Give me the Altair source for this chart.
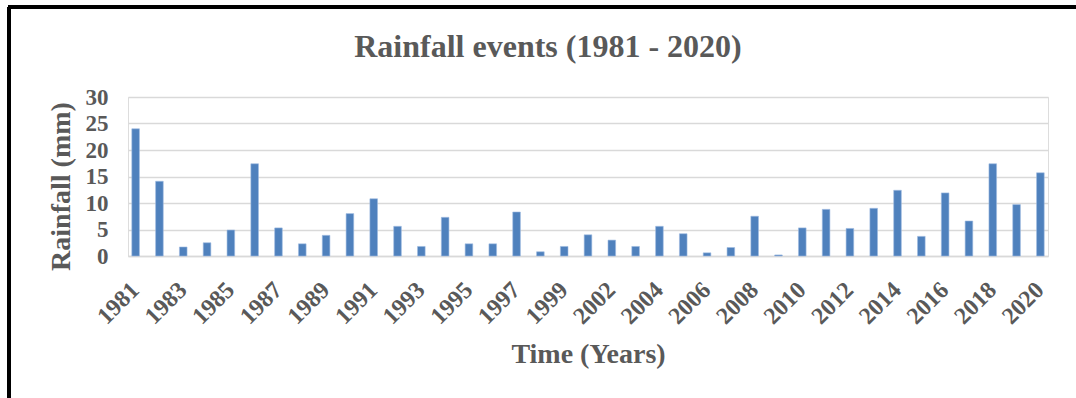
import altair as alt
import pandas as pd

years = [str(y) for y in range(1981, 2001)] + [str(y) for y in range(2002, 2021)]
rainfall = [24.0, 14.1, 1.7, 2.5, 4.9, 17.4, 5.3, 2.3, 3.9, 8.0,
            10.8, 5.6, 1.8, 7.3, 2.3, 2.3, 8.3, 0.8, 1.8, 4.0,
            3.0, 1.8, 5.6, 4.2, 0.6, 1.6, 7.5, 0.2, 5.3, 8.8,
            5.2, 9.0, 12.4, 3.7, 11.9, 6.6, 17.4, 9.7, 15.7]
tick_years = years[::2]

df = pd.DataFrame({"Year": years, "Rainfall": rainfall})

FONT = "Liberation Serif"
GREY = "#595959"

bars = alt.Chart(df).mark_bar(color="#4f81bd", stroke="#9dbbe0", strokeWidth=0.6).encode(
    x=alt.X("Year:N", sort=years,
            scale=alt.Scale(paddingInner=0.68, paddingOuter=0.16),
            axis=alt.Axis(values=tick_years, labelAngle=-45, labelAlign="right",
                          labelBaseline="middle", labelPadding=30, ticks=False,
                          domainColor="#d9d9d9", domainWidth=1.5,
                          labelFont=FONT, labelFontSize=24, labelFontWeight="bold",
                          labelColor=GREY, title="Time (Years)", titleFont=FONT,
                          titleFontSize=28, titleFontWeight="bold", titleColor=GREY,
                          titlePadding=12)),
    y=alt.Y("Rainfall:Q", scale=alt.Scale(domain=[0, 30]),
            axis=alt.Axis(values=[0, 5, 10, 15, 20, 25, 30], ticks=False, domain=False,
                          gridColor="#d9d9d9", gridWidth=1.5,
                          labelFont=FONT, labelFontSize=23, labelFontWeight="bold",
                          labelColor=GREY, labelPadding=20, title="Rainfall (mm)",
                          titleFont=FONT, titleFontSize=28, titleFontWeight="bold",
                          titleColor=GREY, titlePadding=10, titleY=89)),
)

border_left = alt.Chart(df).mark_rule(color="#000000", strokeWidth=2.5, clip=False).encode(
    x=alt.value(-119), y=alt.value(-90), y2=alt.value(320))
border_top = alt.Chart(df).mark_rule(color="#000000", strokeWidth=2.5, clip=False).encode(
    x=alt.value(-120), x2=alt.value(960), y=alt.value(-90))

chart = alt.layer(bars, border_left, border_top).properties(
    width=920, height=159,
    title=alt.TitleParams("Rainfall events (1981 - 2020)", font=FONT, fontSize=32,
                          fontWeight="bold", color=GREY, dx=-40, offset=-83,
                          baseline="alphabetic"),
    autosize=alt.AutoSizeParams(type="none"),
    padding={"left": 128, "top": 97, "right": 28, "bottom": 142},
).configure_view(stroke=None).configure(background="white")

chart.save("out.html", embed_options={"renderer": "svg", "actions": False})
